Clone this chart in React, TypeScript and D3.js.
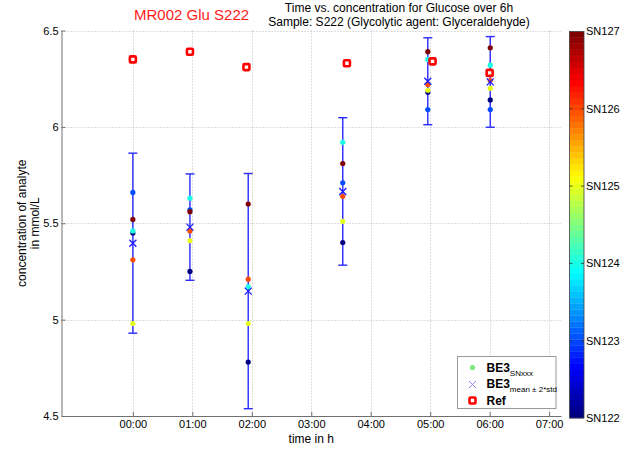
import React, { useRef, useEffect } from 'react';
import * as d3 from 'd3';

// sensors and values
const sensors = ['SN122', 'SN123', 'SN124', 'SN125', 'SN126', 'SN127'];
const sampleHours = [0, 0.96, 1.94, 3.53, 4.96, 6.01];
const refHours = [0, 0.96, 1.91, 3.6, 5.04, 6.0];
const refValues = [6.35, 6.39, 6.31, 6.33, 6.34, 6.28];

const sn122 = [5.45, 5.25, 4.78, 5.40, 6.18, 6.14];
const sn123 = [5.66, 5.57, null, 5.71, 6.09, 6.09];
const sn124 = [5.46, 5.63, 5.17, 5.92, 6.35, 6.32];
const sn125 = [4.98, 5.41, 4.98, 5.51, 6.19, 6.20];
const sn126 = [5.31, 5.46, 5.21, 5.64, 6.22, 6.24];
const sn127 = [5.52, 5.56, 5.60, 5.81, 6.39, 6.41];
const sensorValues: (number | null)[][] = [sn122, sn123, sn124, sn125, sn126, sn127];

const hourTicks = [0, 1, 2, 3, 4, 5, 6, 7];
const valueTicks = [4.5, 5, 5.5, 6, 6.5];

const FONT = "Arial, 'Liberation Sans', Helvetica, sans-serif";

// matlab jet colormap
function jet(t: number) {
  const c = (v: number) => Math.round(255 * Math.max(0, Math.min(1, v)));
  const r = c(Math.min(4 * t - 1.5, -4 * t + 4.5));
  const g = c(Math.min(4 * t - 0.5, -4 * t + 3.5));
  const b = c(Math.min(4 * t + 0.5, -4 * t + 2.5));
  return `rgb(${r},${g},${b})`;
}

export default function App() {
  const svgRef = useRef<SVGSVGElement>(null);

  useEffect(() => {
    if (!svgRef.current) return;
    const svg = d3.select(svgRef.current);
    svg.selectAll('*').remove();

    const x = d3.scaleLinear().domain([-1.2, 7.2]).range([61.5, 561]);
    const y = d3.scaleLinear().domain([4.5, 6.5]).range([416, 30.5]);
    const colorT = d3.scaleLinear().domain([0, sensors.length - 1]).range([0, 1]);

    // grid
    const grid = svg.append('g')
      .attr('stroke', '#bdbdbd')
      .attr('stroke-width', 1)
      .attr('stroke-dasharray', '1,2');
    grid.selectAll('.gx')
      .data(hourTicks)
      .enter().append('line')
      .attr('x1', d => Math.round(x(d)) + 0.5)
      .attr('x2', d => Math.round(x(d)) + 0.5)
      .attr('y1', y(6.5))
      .attr('y2', y(4.5));
    grid.selectAll('.gy')
      .data(valueTicks.filter(v => v > 4.5))
      .enter().append('line')
      .attr('x1', x(-1.2))
      .attr('x2', x(7.2))
      .attr('y1', d => Math.round(y(d)) + 0.5)
      .attr('y2', d => Math.round(y(d)) + 0.5);

    // axes
    const xAxis = svg.append('g')
      .attr('transform', `translate(0,${y(4.5)})`)
      .call(d3.axisBottom(x)
        .tickValues(hourTicks)
        .tickSize(-4)
        .tickSizeOuter(0)
        .tickPadding(4)
        .tickFormat(d => `${d3.format('02d')(Number(d))}:00`));
    const yAxis = svg.append('g')
      .attr('transform', `translate(${x(-1.2)},0)`)
      .call(d3.axisLeft(y)
        .tickValues(valueTicks)
        .tickSize(-4)
        .tickSizeOuter(0)
        .tickPadding(3)
        .tickFormat(d => String(d)));
    [xAxis, yAxis].forEach(a => {
      a.selectAll('path, line').attr('stroke', '#707070');
      a.selectAll('text')
        .attr('fill', '#000')
        .style('font-family', FONT)
        .style('font-size', '11px');
    });

    svg.append('text')
      .attr('x', (x(-1.2) + x(7.2)) / 2)
      .attr('y', 443)
      .attr('text-anchor', 'middle')
      .style('font-family', FONT)
      .style('font-size', '12px')
      .text('time in h');

    const yl = svg.append('g')
      .attr('transform', `translate(0,${(y(4.5) + y(6.5)) / 2}) rotate(-90)`)
      .style('font-family', FONT)
      .style('font-size', '12px')
      .attr('text-anchor', 'middle');
    yl.append('text').attr('x', 0).attr('y', 25.5).text('concentration of analyte');
    yl.append('text').attr('x', 0).attr('y', 39).text('in mmol/L');

    // titles
    svg.append('text')
      .attr('x', 134)
      .attr('y', 20)
      .attr('fill', '#ff1a1a')
      .style('font-family', FONT)
      .style('font-size', '15px')
      .text('MR002 Glu S222');
    const tt = svg.append('g')
      .attr('text-anchor', 'middle')
      .style('font-family', FONT)
      .style('font-size', '12px');
    tt.append('text').attr('x', 399).attr('y', 12).text('Time vs. concentration for Glucose over 6h');
    tt.append('text').attr('x', 399).attr('y', 25.5).text('Sample: S222 (Glycolytic agent: Glyceraldehyde)');

    // per timepoint: dots, error bar, mean marker
    sampleHours.forEach((h, i) => {
      const vals = sensorValues.map(s => s[i]);
      const present = vals.filter(v => v != null) as number[];
      const m = d3.mean(present) as number;
      const sd = d3.deviation(present) as number;
      const cx = x(h);
      const g = svg.append('g');

      g.append('line')
        .attr('x1', cx).attr('x2', cx)
        .attr('y1', y(m + 2 * sd)).attr('y2', y(m - 2 * sd))
        .attr('stroke', '#2a2aff')
        .attr('stroke-width', 1.4);
      [m + 2 * sd, m - 2 * sd].forEach(v => {
        g.append('line')
          .attr('x1', cx - 4.5).attr('x2', cx + 4.5)
          .attr('y1', y(v)).attr('y2', y(v))
          .attr('stroke', '#2a2aff')
          .attr('stroke-width', 1.4);
      });

      g.selectAll('.dot')
        .data(vals.map((v, k) => ({ v, k })).filter(d => d.v != null))
        .enter().append('circle')
        .attr('cx', cx)
        .attr('cy', d => y(d.v as number))
        .attr('r', 2.6)
        .attr('fill', d => jet(colorT(d.k)));

      const my = y(m);
      g.append('path')
        .attr('d', `M${cx - 3.5},${my - 3.5}L${cx + 3.5},${my + 3.5}M${cx - 3.5},${my + 3.5}L${cx + 3.5},${my - 3.5}`)
        .attr('stroke', '#1a1aff')
        .attr('stroke-width', 1.3);
    });

    // reference
    svg.selectAll('.ref')
      .data(refValues)
      .enter().append('rect')
      .attr('x', (d, i) => x(refHours[i]) - 3)
      .attr('y', d => y(d) - 3)
      .attr('width', 6)
      .attr('height', 6)
      .attr('rx', 1)
      .attr('fill', '#fff')
      .attr('stroke', '#ff0000')
      .attr('stroke-width', 2.6);

    // legend
    const lg = svg.append('g').style('font-family', FONT);
    lg.append('rect')
      .attr('x', 457.5).attr('y', 356.5)
      .attr('width', 98.5).attr('height', 52)
      .attr('fill', '#fff')
      .attr('stroke', '#9a9a9a');
    lg.append('circle').attr('cx', 472.5).attr('cy', 367.5).attr('r', 2.6).attr('fill', '#7ee87e');
    lg.append('path')
      .attr('d', 'M469,381L476,388M469,388L476,381')
      .attr('stroke', '#8c8cff')
      .attr('stroke-width', 1);
    lg.append('rect')
      .attr('x', 469.5).attr('y', 397.5)
      .attr('width', 6).attr('height', 6).attr('rx', 1)
      .attr('fill', '#fff').attr('stroke', '#ff0000').attr('stroke-width', 2.6);
    const t1 = lg.append('text').attr('x', 486.5).attr('y', 371.5).style('font-size', '12px');
    t1.append('tspan').style('font-weight', 'bold').text('BE3');
    t1.append('tspan').attr('dy', 4).style('font-size', '8px').text('SNxxx');
    const t2 = lg.append('text').attr('x', 486.5).attr('y', 388).style('font-size', '12px');
    t2.append('tspan').style('font-weight', 'bold').text('BE3');
    t2.append('tspan').attr('dy', 4).style('font-size', '8px').text('mean ± 2*std');
    lg.append('text').attr('x', 486.5).attr('y', 405).style('font-size', '12px')
      .style('font-weight', 'bold').text('Ref');

    // colorbar
    const cb = { x: 569.5, w: 14.5, top: 31.5, bottom: 418 };
    const nBands = 64;
    const band = d3.scaleLinear().domain([0, nBands]).range([cb.bottom, cb.top]);
    svg.append('g').selectAll('rect')
      .data(d3.range(nBands))
      .enter().append('rect')
      .attr('x', cb.x)
      .attr('y', d => band(d + 1))
      .attr('width', cb.w)
      .attr('height', d => band(d) - band(d + 1) + 0.3)
      .attr('fill', d => jet(d / (nBands - 1)));
    svg.append('rect')
      .attr('x', cb.x).attr('y', cb.top)
      .attr('width', cb.w).attr('height', cb.bottom - cb.top)
      .attr('fill', 'none').attr('stroke', '#404040').attr('stroke-width', 0.8);
    const cbScale = d3.scaleLinear().domain([0, sensors.length - 1]).range([cb.bottom, cb.top]);
    const cbt = svg.append('g');
    sensors.forEach((s, i) => {
      const ty = cbScale(i);
      if (i > 0 && i < sensors.length - 1) {
        cbt.append('line').attr('x1', cb.x).attr('x2', cb.x + 3).attr('y1', ty).attr('y2', ty)
          .attr('stroke', '#303030').attr('stroke-width', 0.8);
        cbt.append('line').attr('x1', cb.x + cb.w - 3).attr('x2', cb.x + cb.w).attr('y1', ty).attr('y2', ty)
          .attr('stroke', '#303030').attr('stroke-width', 0.8);
      }
      cbt.append('text')
        .attr('x', cb.x + cb.w + 2)
        .attr('y', ty)
        .attr('dy', '0.35em')
        .style('font-family', FONT)
        .style('font-size', '11px')
        .text(s);
    });
  }, []);

  return (
    <svg
      ref={svgRef}
      width={632}
      height={450}
      style={{ position: 'absolute', left: 0, top: 0, background: '#fff' }}
    />
  );
}
